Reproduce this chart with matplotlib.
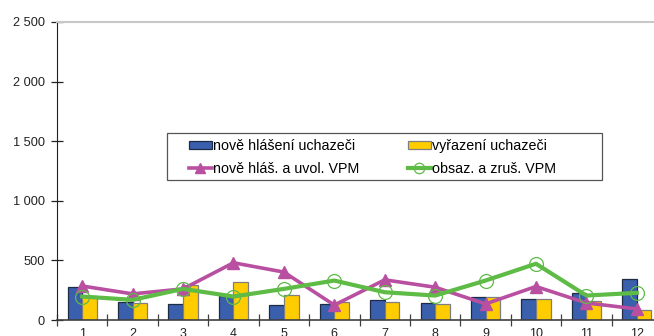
import numpy as np
import matplotlib.pyplot as plt
from matplotlib.patches import Rectangle
from matplotlib.ticker import FuncFormatter

# monthly values
months = [str(m) for m in range(1, 13)]
nove_uchazeci = [275, 155, 135, 200, 126, 135, 169, 143, 194, 174, 225, 345]
vyrazeni_uchazeci = [205, 146, 295, 323, 211, 152, 155, 135, 194, 177, 157, 84]
nove_vpm = [285, 219, 261, 480, 402, 125, 337, 275, 135, 281, 143, 93]
obsaz_vpm = [197, 169, 261, 197, 261, 331, 233, 205, 331, 472, 205, 228]

plt.rcParams['font.family'] = ['Liberation Sans', 'DejaVu Sans']

fig = plt.figure(figsize=(6.54, 3.36), dpi=100)
ax = fig.add_axes([0.0872, 0.0476, 0.925, 0.887])

x = np.arange(len(months))
w = 0.29
b1 = ax.bar(x - w / 2, nove_uchazeci, w, color='#3A5FAD', edgecolor='#1F2A44', linewidth=0.9,
            label='nově hlášení uchazeči', zorder=2)
b2 = ax.bar(x + w / 2, vyrazeni_uchazeci, w, color='#FFCC00', edgecolor='#7F7F7F', linewidth=0.9,
            label='vyřazení uchazeči', zorder=2)
l1, = ax.plot(x, nove_vpm, color='#B84FA0', lw=2.6, marker='^', ms=9, mec='#B84FA0',
              label='nově hláš. a uvol. VPM', zorder=3)
l2, = ax.plot(x, obsaz_vpm, color='#5DBB46', lw=3, marker='o', ms=10, mfc='none', mec='#5DBB46',
              mew=0.9, label='obsaz. a zruš. VPM', zorder=4)

ax.set_xlim(-0.5, len(months) - 0.5)
ax.set_ylim(0, 2500)
ax.set_yticks(range(0, 2501, 500))
ax.yaxis.set_major_formatter(FuncFormatter(lambda v, p: f'{int(v):,}'.replace(',', ' ')))

ax.set_xticks(x)
ax.set_xticklabels(months)
ax.set_xticks(np.arange(-0.5, len(months), 1), minor=True)
ax.tick_params(axis='x', which='major', length=0, pad=6, labelsize=9, colors='#222222')
ax.tick_params(axis='x', which='minor', direction='inout', length=8, width=0.9, color='#404040')
ax.tick_params(axis='y', direction='inout', length=8, width=0.9, labelsize=9.2, pad=5,
               colors='#222222')

ax.spines['left'].set_color('#222222')
ax.spines['bottom'].set_color('#404040')
ax.spines['bottom'].set_linewidth(1.2)
ax.spines['top'].set_color('#C8C8C8')
ax.spines['top'].set_linewidth(1.5)
ax.spines['right'].set_visible(False)

# legend frame drawn separately (wide box with uneven padding)
ax.add_patch(Rectangle((167 / 654, 1 - 180 / 336), 435 / 654, 47 / 336,
                       transform=fig.transFigure, facecolor='white', clip_on=False,
                       edgecolor='#555555', linewidth=0.9, zorder=5))
leg = ax.legend([b1, l1, b2, l2], [h.get_label() for h in (b1, l1, b2, l2)],
                ncol=2, loc='upper left', bbox_to_anchor=(189 / 654, 1 - 139 / 336),
                bbox_transform=fig.transFigure, fontsize=10.3, frameon=False,
                handlelength=1.6, handleheight=0.45, handletextpad=0.08,
                columnspacing=3.4, borderpad=0, borderaxespad=0, labelspacing=0.62,
                markerscale=0.75)
leg.set_zorder(6)

fig.savefig('out.png', dpi=100)
